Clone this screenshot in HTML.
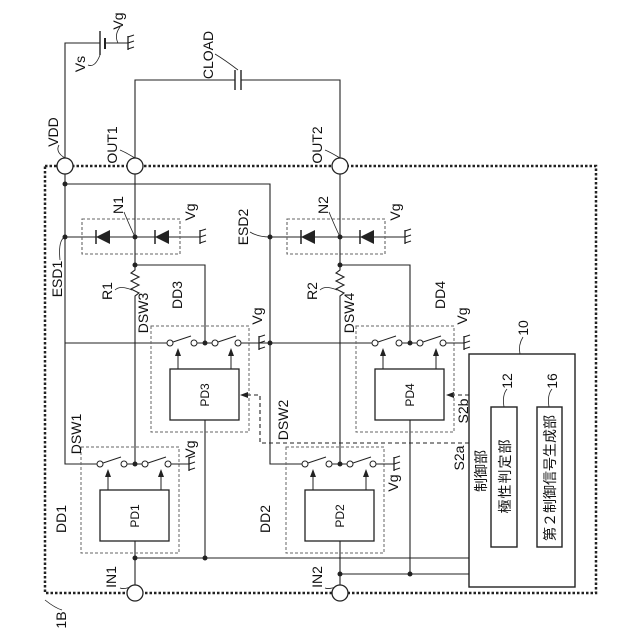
<!DOCTYPE html>
<html><head><meta charset="utf-8"><style>
html,body{margin:0;padding:0;background:#fff;width:640px;height:640px;overflow:hidden}
svg{display:block}
text{font-family:"Liberation Sans","Noto Sans CJK JP",sans-serif;fill:#111}
</style></head><body>
<svg width="640" height="640" viewBox="0 0 640 640" xmlns="http://www.w3.org/2000/svg">
<defs>
<g id="gnd"><line x1="0" y1="-7" x2="0" y2="7" stroke="#222" stroke-width="1.3"/><line x1="0" y1="-6" x2="6" y2="-8" stroke="#222" stroke-width="1.1"/><line x1="0" y1="0" x2="6" y2="-2" stroke="#222" stroke-width="1.1"/><line x1="0" y1="6" x2="6" y2="4" stroke="#222" stroke-width="1.1"/></g>
<g id="diode"><polygon points="-7,0 7,-7 7,7" fill="#222"/><line x1="-7" y1="-7" x2="-7" y2="7" stroke="#222" stroke-width="1.5"/></g>
<g id="dd">
<rect x="151" y="326" width="98" height="106" fill="none" stroke="#666" stroke-dasharray="3,2"/>
<line x1="194" y1="343" x2="215" y2="343" stroke="#222"/>
<line x1="173" y1="342" x2="191" y2="336" stroke="#222"/>
<line x1="218" y1="342" x2="236" y2="336" stroke="#222"/>
<line x1="241" y1="343" x2="259" y2="343" stroke="#222"/>
<circle cx="170" cy="343" r="3" fill="#fff" stroke="#222"/>
<circle cx="194" cy="343" r="3" fill="#fff" stroke="#222"/>
<circle cx="215" cy="343" r="3" fill="#fff" stroke="#222"/>
<circle cx="238" cy="343" r="3" fill="#fff" stroke="#222"/>
<circle cx="205" cy="343" r="2.5" fill="#222"/>
<use href="#gnd" x="259" y="343"/>
<rect x="170" y="369" width="69" height="51" fill="#fff" stroke="#222" stroke-width="1.3"/>
<line x1="178" y1="369" x2="178" y2="355" stroke="#222"/>
<polygon points="178,348 175,356 181,356" fill="#222"/>
<line x1="231" y1="369" x2="231" y2="355" stroke="#222"/>
<polygon points="231,348 228,356 234,356" fill="#222"/>
</g>
</defs>
<g stroke="#222" stroke-width="1.1" fill="none">
<polyline points="65,166 65,43 100,43"/>
<line x1="100" y1="31" x2="100" y2="55" stroke-width="1.4"/>
<line x1="105" y1="38" x2="105" y2="49" stroke-width="2"/>
<line x1="105" y1="43" x2="128" y2="43"/>
<polyline points="135,166 135,80 235,80"/>
<line x1="235" y1="70" x2="235" y2="90" stroke-width="1.4"/>
<line x1="241" y1="70" x2="241" y2="90" stroke-width="1.4"/>
<polyline points="241,80 340,80 340,166"/>
<rect x="45" y="166" width="551" height="427" stroke-width="2.5" stroke-dasharray="2.5,2"/>
<polyline points="65,174 65,464 100,464"/>
<polyline points="65,184 270,184 270,464 305,464"/>
<line x1="65" y1="343" x2="170" y2="343"/>
<line x1="259" y1="343" x2="375" y2="343"/>
<line x1="65" y1="237" x2="200" y2="237"/>
<line x1="270" y1="237" x2="405" y2="237"/>
<rect x="82" y="219" width="98" height="35" stroke="#666" stroke-dasharray="3,2"/>
<rect x="287" y="219" width="98" height="35" stroke="#666" stroke-dasharray="3,2"/>
<polyline points="135,174 135,270 131,273 139,277 131,281 139,285 131,289 139,293 135,296 135,464"/>
<polyline points="340,174 340,270 336,273 344,277 336,281 344,285 336,289 344,293 340,296 340,464"/>
<polyline points="135,265 205,265 205,343"/>
<polyline points="340,265 410,265 410,343"/>
<line x1="135" y1="541" x2="135" y2="585"/>
<line x1="340" y1="541" x2="340" y2="585"/>
<line x1="205" y1="420" x2="205" y2="558"/>
<line x1="410" y1="420" x2="410" y2="574"/>
<line x1="135" y1="558" x2="469" y2="558"/>
<line x1="340" y1="574" x2="469" y2="574"/>
<polyline points="469,443 260,443 260,395 247,395" stroke-dasharray="4,3"/>
<polyline points="469,395 452,395" stroke-dasharray="4,3"/>
<rect x="469" y="354" width="106" height="233" stroke-width="1.4" fill="#fff"/>
<rect x="491" y="407" width="26" height="140" stroke-width="1.4"/>
<rect x="537" y="407" width="25" height="140" stroke-width="1.4"/>
<path d="M118,43 Q114,35 120,27" stroke-width="0.8"/>
<path d="M100,55 Q95,68 88,65" stroke-width="0.8"/>
<path d="M238,70 Q225,60 215,54" stroke-width="0.8"/>
<path d="M65,158 Q55,152 59,145" stroke-width="0.8"/>
<path d="M135,158 Q125,152 120,150" stroke-width="0.8"/>
<path d="M340,158 Q330,152 325,150" stroke-width="0.8"/>
<path d="M135,237 Q128,222 124,212" stroke-width="0.8"/>
<path d="M340,237 Q333,222 329,212" stroke-width="0.8"/>
<path d="M65,237 Q58,240 60,260" stroke-width="0.8"/>
<path d="M270,237 Q258,237 250,232" stroke-width="0.8"/>
<path d="M132,290 Q120,285 115,290" stroke-width="0.8"/>
<path d="M337,290 Q325,285 320,290" stroke-width="0.8"/>
<path d="M520,354 Q518,345 523,337" stroke-width="0.8"/>
<path d="M504,407 Q502,395 507,389" stroke-width="0.8"/>
<path d="M549,407 Q547,395 552,389" stroke-width="0.8"/>
<path d="M135,585 Q125,590 120,588" stroke-width="0.8"/>
<path d="M340,585 Q330,590 325,588" stroke-width="0.8"/>
<path d="M45,600 Q55,608 62,610" stroke-width="0.8"/>
</g>
<polygon points="240,395 248,392 248,398" fill="#222"/>
<polygon points="446,395 454,392 454,398" fill="#222"/>
<use href="#gnd" x="128" y="43"/>
<use href="#gnd" x="200" y="237"/>
<use href="#gnd" x="405" y="237"/>
<use href="#diode" x="103" y="237"/>
<use href="#diode" x="162" y="237"/>
<use href="#diode" x="308" y="237"/>
<use href="#diode" x="367" y="237"/>
<use href="#dd"/>
<use href="#dd" x="205"/>
<use href="#dd" x="-70" y="121"/>
<use href="#dd" x="135" y="121"/>
<g fill="#fff" stroke="#222" stroke-width="1.3">
<circle cx="65" cy="166" r="8"/><circle cx="135" cy="166" r="8"/><circle cx="340" cy="166" r="8"/>
<circle cx="135" cy="593" r="8"/><circle cx="340" cy="593" r="8"/>
</g>
<g fill="#222">
<circle cx="65" cy="184" r="2.5"/><circle cx="65" cy="237" r="2.5"/><circle cx="270" cy="237" r="2.5"/>
<circle cx="135" cy="237" r="2.5"/><circle cx="340" cy="237" r="2.5"/>
<circle cx="135" cy="265" r="2.5"/><circle cx="340" cy="265" r="2.5"/>
<circle cx="270" cy="343" r="2.5"/>
<circle cx="135" cy="558" r="2.5"/><circle cx="205" cy="558" r="2.5"/>
<circle cx="340" cy="574" r="2.5"/><circle cx="410" cy="574" r="2.5"/>
</g>
<g font-size="14" text-anchor="middle">
<text transform="translate(123,21) rotate(-90)">Vg</text>
<text transform="translate(85,64) rotate(-90)">Vs</text>
<text transform="translate(213,55) rotate(-90)">CLOAD</text>
<text transform="translate(58,132) rotate(-90)">VDD</text>
<text transform="translate(117,145) rotate(-90)">OUT1</text>
<text transform="translate(322,145) rotate(-90)">OUT2</text>
<text transform="translate(123,205) rotate(-90)">N1</text>
<text transform="translate(328,205) rotate(-90)">N2</text>
<text transform="translate(195,212) rotate(-90)">Vg</text>
<text transform="translate(400,212) rotate(-90)">Vg</text>
<text transform="translate(62,279) rotate(-90)">ESD1</text>
<text transform="translate(248,227) rotate(-90)">ESD2</text>
<text transform="translate(112,291) rotate(-90)">R1</text>
<text transform="translate(317,291) rotate(-90)">R2</text>
<text transform="translate(182,295) rotate(-90)">DD3</text>
<text transform="translate(445,295) rotate(-90)">DD4</text>
<text transform="translate(148,313) rotate(-90)">DSW3</text>
<text transform="translate(354,313) rotate(-90)">DSW4</text>
<text transform="translate(262,316) rotate(-90)">Vg</text>
<text transform="translate(467,316) rotate(-90)">Vg</text>
<text transform="translate(81,434) rotate(-90)">DSW1</text>
<text transform="translate(288,420) rotate(-90)">DSW2</text>
<text transform="translate(195,449) rotate(-90)">Vg</text>
<text transform="translate(398,483) rotate(-90)">Vg</text>
<text transform="translate(66,519) rotate(-90)">DD1</text>
<text transform="translate(270,519) rotate(-90)">DD2</text>
<text transform="translate(116,577) rotate(-90)">IN1</text>
<text transform="translate(322,577) rotate(-90)">IN2</text>
<text transform="translate(66,620) rotate(-90)">1B</text>
<text transform="translate(468,411) rotate(-90)">S2b</text>
<text transform="translate(464,458) rotate(-90)">S2a</text>
<text transform="translate(528,328) rotate(-90)">10</text>
<text transform="translate(512,381) rotate(-90)">12</text>
<text transform="translate(557,381) rotate(-90)">16</text>
</g>
<g font-size="12" text-anchor="middle">
<text transform="translate(209,395) rotate(-90)">PD3</text>
<text transform="translate(414,395) rotate(-90)">PD4</text>
<text transform="translate(139,516) rotate(-90)">PD1</text>
<text transform="translate(344,516) rotate(-90)">PD2</text>
</g>
<g font-size="14" text-anchor="middle">
<text transform="translate(486,471) rotate(-90)">制御部</text>
<text transform="translate(510,476) rotate(-90)" letter-spacing="1">極性判定部</text>
<text transform="translate(555,478) rotate(-90)" letter-spacing="0">第２制御信号生成部</text>
</g>
</svg>
</body></html>
